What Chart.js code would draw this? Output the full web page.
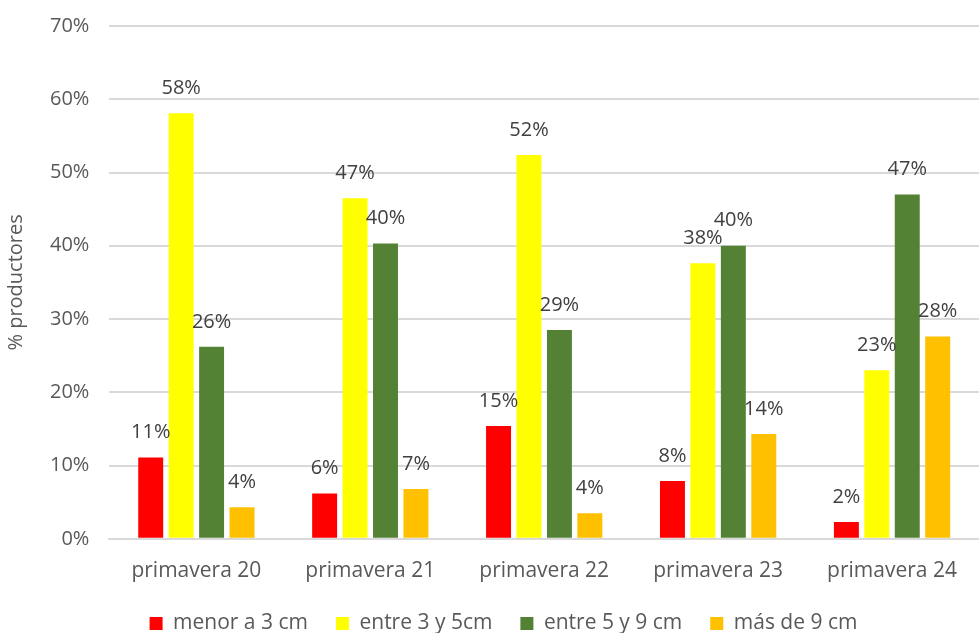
<!DOCTYPE html>
<html>
<head>
<meta charset="utf-8">
<script src="https://cdn.jsdelivr.net/npm/chart.js@4/dist/chart.umd.min.js"></script>
<style>
  html, body { margin: 0; padding: 0; background: #fff; }
  #wrap { width: 979px; height: 633px; }
</style>
</head>
<body>
<div id="wrap"><canvas id="myChart"></canvas></div>
<script>
const categorias = ['primavera 20', 'primavera 21', 'primavera 22', 'primavera 23', 'primavera 24'];
const menor3 = [11.1, 6.2, 15.4, 7.9, 2.3];
const entre3y5 = [58.1, 46.5, 52.4, 37.6, 23.0];
const entre5y9 = [26.2, 40.3, 28.5, 40.0, 47.0];
const mas9 = [4.3, 6.8, 3.5, 14.3, 27.6];
const yTicks = [0, 10, 20, 30, 40, 50, 60, 70];

const fuente = '"Open Sans", "Liberation Sans", sans-serif';
const gris = '#595959';

// etiquetas encima de cada barra
const etiquetas = {
  id: 'etiquetas',
  afterDatasetsDraw(chart) {
    const c = chart.ctx;
    c.save();
    c.font = '20px ' + fuente;
    c.fillStyle = '#404040';
    c.textAlign = 'center';
    c.textBaseline = 'middle';
    chart.data.datasets.forEach((ds, i) => {
      chart.getDatasetMeta(i).data.forEach((bar, j) => {
        c.fillText(Math.round(ds.data[j]) + '%', bar.x, bar.y - 25);
      });
    });
    c.restore();
  }
};

// leyenda mas pegada al eje
const ajusteLeyenda = {
  id: 'ajusteLeyenda',
  beforeInit(chart) {
    const fit = chart.legend.fit;
    chart.legend.fit = function () { fit.call(this); this.height -= 22; };
  },
  afterLayout(chart) {
    chart.legend.top -= 11;
    chart.legend.left += 12;
    chart.legend.right += 12;
  }
};

const data = {
  labels: categorias,
  datasets: [
    { label: 'menor a 3 cm', data: menor3, backgroundColor: '#ff0000' },
    { label: 'entre 3 y 5cm', data: entre3y5, backgroundColor: '#ffff00' },
    { label: 'entre 5 y 9 cm', data: entre5y9, backgroundColor: '#548235' },
    { label: 'más de 9 cm', data: mas9, backgroundColor: '#ffc000' }
  ]
};

const config = {
  type: 'bar',
  data,
  plugins: [etiquetas, ajusteLeyenda],
  options: {
    responsive: true,
    maintainAspectRatio: false,
    animation: false,
    layout: { padding: { top: 0, left: 4, right: 0, bottom: 0 } },
    datasets: { bar: { categoryPercentage: 0.7, barPercentage: 0.82 } },
    scales: {
      x: {
        grid: { display: false },
        border: { color: '#d9d9d9', width: 2 },
        ticks: { color: gris, font: { family: fuente, size: 21 }, padding: 12 }
      },
      y: {
        min: 0,
        max: 70,
        afterBuildTicks(axis) { axis.ticks = yTicks.map(v => ({ value: v })); },
        grid: { color: '#d9d9d9', lineWidth: 2, drawTicks: false },
        border: { display: false },
        ticks: {
          color: gris,
          font: { family: fuente, size: 20, lineHeight: 0.6 },
          padding: 20,
          callback: v => v + '%'
        },
        title: {
          display: true,
          text: '% productores',
          color: gris,
          font: { family: fuente, size: 20 },
          padding: { top: 0, bottom: 2 }
        }
      }
    },
    plugins: {
      legend: {
        position: 'bottom',
        labels: {
          color: gris,
          font: { family: fuente, size: 21 },
          boxWidth: 13,
          boxHeight: 13,
          padding: 28
        }
      },
      tooltip: { enabled: false }
    }
  }
};

let myChart = new Chart(document.getElementById('myChart'), config);
</script>
</body>
</html>
